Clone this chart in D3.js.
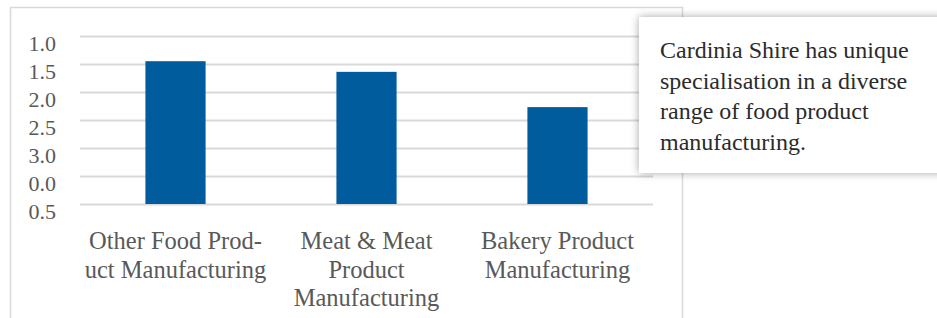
<!DOCTYPE html>
<html><head><meta charset="utf-8">
<script src="https://cdn.jsdelivr.net/npm/d3@7"></script>
<style>
html,body{margin:0;padding:0;background:#fff;}
svg{display:block;}
</style></head>
<body>
<svg id="c" width="937" height="318"></svg>
<script>
const categories = ["Other Food Product Manufacturing","Meat & Meat Product Manufacturing","Bakery Product Manufacturing"];
const categoryLines = [["Other Food Prod-","uct Manufacturing"],["Meat & Meat","Product","Manufacturing"],["Bakery Product","Manufacturing"]];
const values = [2.55, 2.36, 1.73];
const gridValues = [3.0, 2.5, 2.0, 1.5, 1.0, 0.5, 0.0];
const tickLabels = ["1.0","1.5","2.0","2.5","3.0","0.0","0.5"];
const noteLines = ["Cardinia Shire has unique","specialisation in a diverse","range of food product","manufacturing."];

const svg = d3.select("#c");
const serif = "'Liberation Serif','DejaVu Serif',serif";

// outer chart frame
svg.append("path").attr("d","M10.5,330 L10.5,7.5 L682.5,7.5 L682.5,330")
  .attr("fill","none").attr("stroke","#d9d9d9").attr("stroke-width",1.5);

const x = d3.scaleBand().domain(categories).range([80,653]);
const y = d3.scaleLinear().domain([0,3]).range([204,36]);

// gridlines
const grid = svg.append("g").attr("transform","translate(80,0)")
  .call(d3.axisLeft(y).tickValues(gridValues).tickSize(-573).tickFormat(""));
grid.select(".domain").remove();
grid.selectAll(".tick line").attr("stroke","#d9d9d9").attr("stroke-width",2);

// y labels
const ya = svg.append("g").attr("transform","translate(56,7)")
  .call(d3.axisLeft(y).tickValues(gridValues).tickSize(0).tickPadding(0).tickFormat((d,i)=>tickLabels[i]));
ya.select(".domain").remove();
ya.selectAll("text").attr("font-family",serif).attr("font-size",22).attr("fill","#595959");

// bars
const bw = x.bandwidth()*0.315;
svg.append("g").selectAll("rect").data(values).join("rect")
  .attr("x",(d,i)=>x(categories[i])+x.bandwidth()/2-bw/2)
  .attr("width",bw)
  .attr("y",d=>y(d))
  .attr("height",d=>y(0)-y(d))
  .attr("fill","#005c9c");

// x labels
const xl = svg.append("g").selectAll("text").data(categoryLines).join("text")
  .attr("text-anchor","middle")
  .attr("font-family",serif).attr("font-size",24.5).attr("fill","#595959")
  .attr("x",(d,i)=>x(categories[i])+x.bandwidth()/2)
  .attr("y",249);
xl.selectAll("tspan").data(d=>d).join("tspan")
  .attr("x",function(){return d3.select(this.parentNode).attr("x");})
  .attr("dy",(d,i)=>i===0?0:28.5)
  .text(d=>d);

// annotation box
const defs = svg.append("defs");
const f = defs.append("filter").attr("id","sh").attr("x","-10%").attr("y","-20%").attr("width","120%").attr("height","140%");
f.append("feGaussianBlur").attr("in","SourceAlpha").attr("stdDeviation",4).attr("result","b");
f.append("feFlood").attr("flood-color","#000").attr("flood-opacity",0.35);
f.append("feComposite").attr("in2","b").attr("operator","in").attr("result","s");
const m = f.append("feMerge");
m.append("feMergeNode").attr("in","s");
m.append("feMergeNode").attr("in","SourceGraphic");

svg.append("rect").attr("x",639).attr("y",17).attr("width",310).attr("height",156)
  .attr("fill","#fff").attr("filter","url(#sh)");
svg.append("text").attr("font-family",serif).attr("font-size",24).attr("fill","#2b2b2b")
  .selectAll("tspan").data(noteLines).join("tspan")
  .attr("x",660).attr("y",(d,i)=>58+i*30.7).text(d=>d);
</script>
</body></html>
